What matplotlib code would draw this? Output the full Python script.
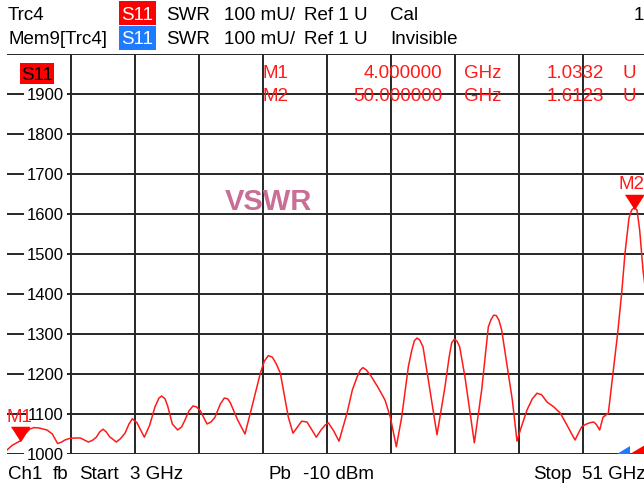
import matplotlib.pyplot as plt
from matplotlib.patches import Rectangle, Polygon
from matplotlib.transforms import blended_transform_factory, offset_copy

W, H = 644, 488

# trace Trc4, S11 SWR (mU)
freq_ghz = [3.0, 3.4, 4.0, 4.4, 4.7, 5.0, 5.4, 6.0, 6.4, 6.8, 7.1, 7.35, 7.7, 8.1, 8.5,
            9.1, 9.4, 9.7, 9.95, 10.2, 10.45, 10.7, 11.2, 11.5, 11.85, 12.15, 12.4,
            12.75, 13.3, 13.7, 14.1, 14.4, 14.6, 14.85, 15.05, 15.4, 15.8, 16.1,
            16.35, 16.65, 16.95, 17.2, 17.5, 18.0, 18.3, 18.6, 19.0, 19.3, 19.55,
            19.75, 20.3, 20.85, 21.4, 22.0, 22.3, 22.6, 22.9, 23.2, 23.5, 24.1, 24.45,
            24.8, 25.1, 25.5, 26.2, 26.55, 26.85, 27.1, 27.5, 27.9, 28.5, 28.9, 29.25,
            29.5, 29.7, 29.95, 30.3, 30.8, 31.35, 31.75, 32.2, 32.6, 33.1, 33.35,
            33.55, 33.75, 33.95, 34.2, 34.6, 35.25, 35.85, 36.15, 36.35, 36.55, 36.75,
            36.95, 37.35, 38.05, 38.6, 39.1, 39.3, 39.5, 39.7, 39.9, 40.1, 40.9, 41.25,
            41.5, 42.0, 42.4, 42.75, 43.1, 43.5, 44.0, 44.5, 45.0, 45.6, 46.1, 46.4,
            46.7, 47.0, 47.2, 47.45, 47.7, 48.1, 48.45, 48.8, 49.1, 49.35, 49.65, 49.85,
            50.05, 50.25, 50.45, 50.7, 51.0]
swr_mu = [1010, 1022, 1033, 1052, 1062, 1066, 1065, 1060, 1050, 1026, 1030, 1035, 1039,
          1040, 1040, 1030, 1034, 1042, 1055, 1062, 1055, 1043, 1030, 1038, 1052, 1075,
          1088, 1078, 1042, 1072, 1118, 1140, 1145, 1138, 1120, 1075, 1060, 1068,
          1085, 1108, 1120, 1118, 1108, 1075, 1080, 1092, 1125, 1140, 1138,
          1128, 1085, 1050, 1122, 1202, 1232, 1246, 1242, 1225, 1202, 1092, 1052,
          1068, 1082, 1080, 1042, 1060, 1072, 1078, 1058, 1032, 1102, 1160, 1192,
          1210, 1216, 1210, 1195, 1168, 1135, 1092, 1018, 1092, 1218, 1258,
          1283, 1290, 1285, 1268, 1185, 1048, 1168, 1240, 1278, 1287, 1282,
          1268, 1192, 1028, 1160, 1318, 1336, 1347, 1346, 1334, 1310, 1135, 1032,
          1060, 1110, 1138, 1152, 1148, 1130, 1118, 1102, 1072, 1035, 1068, 1074,
          1078, 1080, 1074, 1060, 1092, 1102, 1202, 1302, 1402, 1502, 1590, 1610,
          1616, 1610, 1560, 1460, 1380]

marker_names = ['M1', 'M2']
marker_freq = [4.0, 50.0]
marker_swr = [1033.2, 1612.3]
marker_freq_txt = ['4.000000', '50.000000']
marker_val_txt = ['1.0332', '1.6123']

x_start, x_stop = 3.0, 51.0
y_ref, y_top = 1000, 2000
y_labels = [1000, 1100, 1200, 1300, 1400, 1500, 1600, 1700, 1800, 1900]

FONT = 'Liberation Sans'
RED = '#ff1a1a'


def px(x, y):
    return x / W, 1 - y / H


fig = plt.figure(figsize=(W / 100, H / 100), dpi=100)
ax = fig.add_axes([7 / W, 34 / H, 640 / W, 400 / H])
ax.set_xlim(x_start, x_stop)
ax.set_ylim(y_ref, y_top)
for s in ax.spines.values():
    s.set_visible(False)
ax.set_xticks([])
ax.set_yticks([])

grid_kw = dict(color='#262626', lw=1.4, zorder=1)
step = (x_stop - x_start) / 10
for k in range(1, 11):
    ax.axvline(x_start + k * step, **grid_kw)
for v in range(1000, 2001, 100):
    ax.axhline(v, **grid_kw)

# y labels, white box breaks the grid line
tr = offset_copy(blended_transform_factory(fig.transFigure, ax.transData),
                 fig=fig, x=0, y=-6, units='dots')
for v in y_labels:
    ax.text(64 / W, v, str(v), transform=tr, ha='right', va='baseline',
            fontsize=12, family=FONT, color='black', zorder=2,
            bbox=dict(boxstyle='square,pad=0.15', fc='white', ec='none'))

ax.plot(freq_ghz, swr_mu, color=RED, lw=1.1, zorder=5, clip_on=True)

# marker triangles
tri = [(-1, 0.78), (1, 0.78), (0, -0.78)]
tr_m = offset_copy(ax.transData, fig=fig, x=0, y=7, units='dots')
ax.plot(marker_freq, marker_swr, ls='none', marker=tri, ms=13, color='red',
        transform=tr_m, zorder=6, clip_on=False)

fig.text(*px(7, 422), 'M1', color=RED, fontsize=13.5, family=FONT, va='baseline')
fig.text(*px(631, 189), 'M2', color=RED, fontsize=13.5, family=FONT, ha='center',
         va='baseline')

# marker table
for i, yb in enumerate([78, 101]):
    fig.text(*px(262, yb), marker_names[i], color=RED, fontsize=13.5, family=FONT,
             va='baseline')
    fig.text(*px(442, yb), marker_freq_txt[i], color=RED, fontsize=13.5, family=FONT,
             ha='right', va='baseline')
    fig.text(*px(464, yb), 'GHz', color=RED, fontsize=13.5, family=FONT, va='baseline')
    fig.text(*px(604, yb), marker_val_txt[i], color=RED, fontsize=13.5, family=FONT,
             ha='right', va='baseline')
    fig.text(*px(623, yb), 'U', color=RED, fontsize=13.5, family=FONT, va='baseline')

# S11 tag inside the diagram
fig.patches.append(Rectangle(px(20, 84), 34 / W, 21 / H, transform=fig.transFigure,
                             fc='#ff0000', ec='none'))
fig.text(*px(37, 80), 'S11', color='black', fontsize=13.5, family=FONT, ha='center',
         va='baseline')

fig.text(*px(268, 210), 'VSWR', color='#c96e96', fontsize=21, family=FONT,
         weight='bold', ha='center', va='baseline')

# header lines
header_rows = [
    ['Trc4', 'SWR', '100 mU/', 'Ref 1 U', 'Cal'],
    ['Mem9[Trc4]', 'SWR', '100 mU/', 'Ref 1 U', 'Invisible'],
]
header_x = [8, 166, 224, 304, 390]
box_colors = ['#ff0000', '#1e7bff']
for r, (row, yb) in enumerate(zip(header_rows, [19.5, 44.5])):
    for txt, x in zip(row, header_x):
        fig.text(*px(x, yb), txt, color='black', fontsize=13.5, family=FONT,
                 va='baseline')
    top = 1 + r * 25
    fig.patches.append(Rectangle(px(119, top + 24), 37 / W, 24 / H,
                                 transform=fig.transFigure, fc=box_colors[r], ec='none'))
    fig.text(*px(137.5, yb), 'S11', color='white', fontsize=13.5, family=FONT,
             ha='center', va='baseline')
fig.text(*px(634, 19.5), '1', color='black', fontsize=13.5, family=FONT, va='baseline')

# footer line
footer = [('Ch1', 8), ('fb', 53), ('Start', 79), ('3 GHz', 130), ('Pb', 269),
          ('-10 dBm', 303), ('Stop', 533), ('51 GHz', 582)]
for txt, x in footer:
    fig.text(*px(x, 479), txt, color='black', fontsize=13.5, family=FONT, va='baseline')

# stimulus wedges at bottom right
fig.patches.append(Polygon([px(617, 454), px(630, 446), px(630, 454)],
                           transform=fig.transFigure, fc='#1e7bff', ec='none'))
fig.patches.append(Polygon([px(630, 454), px(645, 445), px(645, 454)],
                           transform=fig.transFigure, fc='#ff0000', ec='none'))

fig.savefig('out.png', dpi=100, facecolor='white')
